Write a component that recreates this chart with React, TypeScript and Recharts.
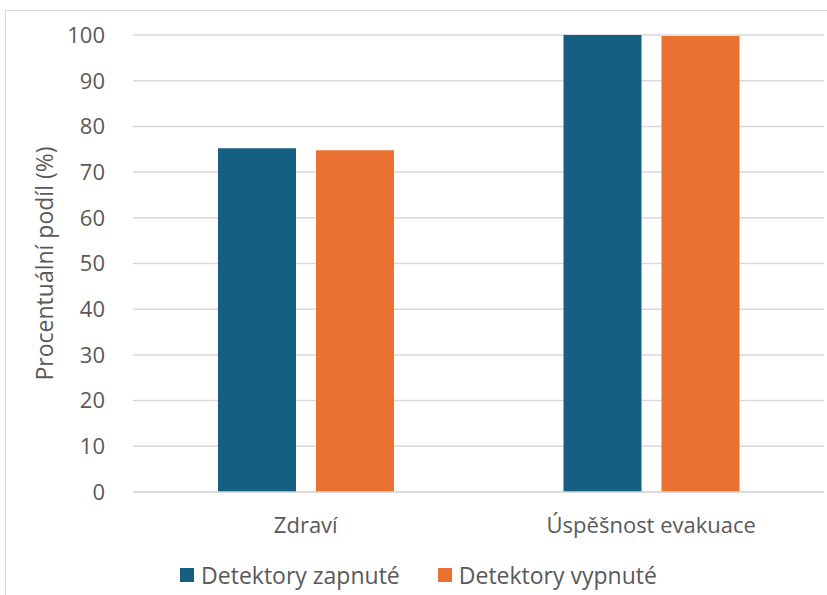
import { BarChart, Bar, XAxis, YAxis, CartesianGrid, Legend } from "recharts";

const categories = ["Zdraví", "Úspěšnost evakuace"];
const detektoryZapnute = [75.2, 100];
const detektoryVypnute = [74.8, 99.8];
const yTicks = [0, 10, 20, 30, 40, 50, 60, 70, 80, 90, 100];
const seriesOrder = ["zapnute", "vypnute"];

const data = categories.map((name, i) => ({
  name,
  zapnute: detektoryZapnute[i],
  vypnute: detektoryVypnute[i],
}));

const FONT = "'Open Sans', sans-serif";
const TEXT = "#595959";

function LegendContent({ payload }: any) {
  const items = [...(payload || [])].sort(
    (a: any, b: any) => seriesOrder.indexOf(a.dataKey) - seriesOrder.indexOf(b.dataKey)
  );
  return (
    <div style={{ display: "flex", justifyContent: "center", fontFamily: FONT, fontSize: 23, color: TEXT, paddingTop: 14 }}>
      {items.map((p: any, i: number) => (
        <div key={i} style={{ display: "flex", alignItems: "center", marginLeft: i ? 38 : 0 }}>
          <span style={{ width: 14, height: 14, background: p.color, marginRight: 7, display: "inline-block" }} />
          <span>{p.value}</span>
        </div>
      ))}
    </div>
  );
}

export default function App() {
  return (
    <div style={{ position: "absolute", left: 0, top: 0, width: 827, height: 595, background: "#fff", overflow: "hidden" }}>
      <div style={{ position: "absolute", left: 5, top: 10, width: 840, height: 600, border: "1px solid #d9d9d9" }} />
      <BarChart
        width={827}
        height={595}
        data={data}
        margin={{ top: 35, right: 3, left: 13, bottom: 0 }}
        barGap={20}
        barSize={78}
        style={{ position: "absolute", left: 0, top: 0 }}
      >
        <CartesianGrid vertical={false} stroke="#d9d9d9" strokeWidth={1.5} />
        <XAxis
          dataKey="name"
          axisLine={{ stroke: "#d9d9d9", strokeWidth: 1.5 }}
          tickLine={false}
          tickSize={0}
          tickMargin={25}
          height={53}
          tick={{ fill: TEXT, fontSize: 22, fontFamily: FONT }}
        />
        <YAxis
          width={120}
          domain={[0, 100]}
          ticks={yTicks}
          axisLine={false}
          tickLine={false}
          tickSize={0}
          tickMargin={28}
          tick={{ fill: TEXT, fontSize: 22, fontFamily: FONT }}
          label={{
            value: "Procentuální podíl (%)",
            angle: -90,
            position: "insideLeft",
            offset: 32,
            style: { textAnchor: "middle", fill: TEXT, fontSize: 23, fontFamily: FONT },
          }}
        />
        <Legend content={<LegendContent />} verticalAlign="bottom" height={50} />
        <Bar dataKey="zapnute" name="Detektory zapnuté" fill="#156082" isAnimationActive={false} />
        <Bar dataKey="vypnute" name="Detektory vypnuté" fill="#E97132" isAnimationActive={false} />
      </BarChart>
    </div>
  );
}
